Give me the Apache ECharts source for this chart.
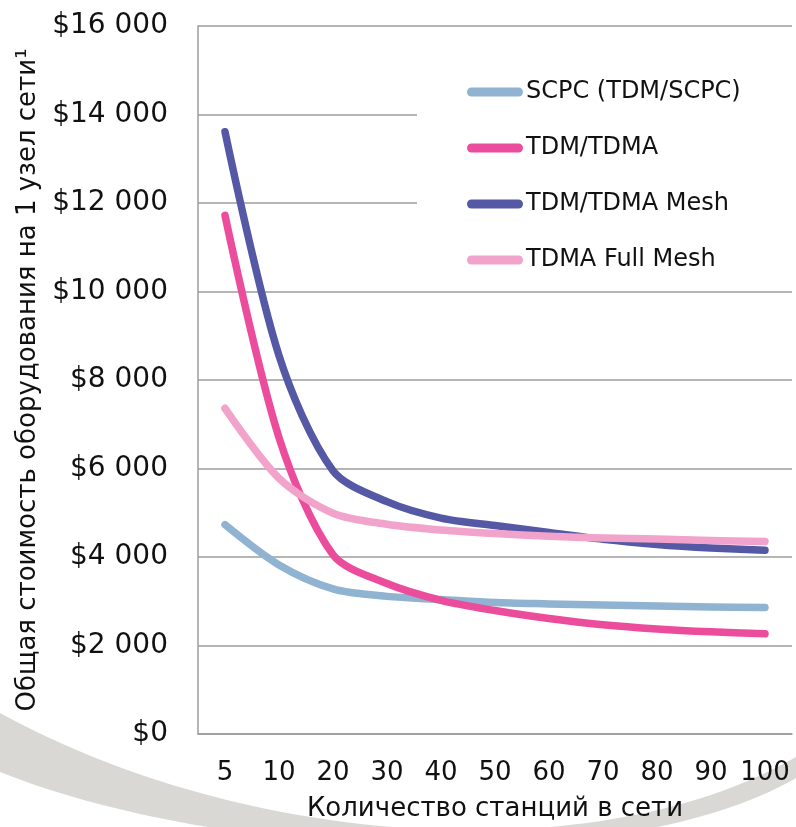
<!DOCTYPE html>
<html>
<head>
<meta charset="utf-8">
<title>Стоимость оборудования на узел</title>
<script src="https://cdn.jsdelivr.net/npm/echarts@6/dist/echarts.min.js"></script>
<style>
  html, body { margin: 0; padding: 0; background: #fff; }
  #chart { width: 796px; height: 827px; }
</style>
</head>
<body>
<div id="chart"></div>
<script>
// количество станций
var stations = ['5', '10', '20', '30', '40', '50', '60', '70', '80', '90', '100']

// стоимость на узел, $
var scpc = [4730, 3820, 3280, 3110, 3040, 2970, 2940, 2915, 2890, 2870, 2860]
var tdmTdma = [11720, 6700, 4050, 3400, 3020, 2790, 2610, 2470, 2375, 2310, 2265]
var tdmTdmaMesh = [13610, 8550, 5950, 5250, 4880, 4710, 4555, 4400, 4285, 4205, 4150]
var tdmaFullMesh = [7360, 5780, 4990, 4740, 4610, 4530, 4470, 4430, 4405, 4375, 4350]

var seriesNames = ['SCPC (TDM/SCPC)', 'TDM/TDMA', 'TDM/TDMA Mesh', 'TDMA Full Mesh']
var seriesColors = ['#8fb3d1', '#ec4c9c', '#5558a5', '#f1a3cb']

var font = 'DejaVu Sans, Verdana, sans-serif'
var gridColor = '#9c9c9c'

// "$16 000"
function money (val) {
  return '$' + String(val).replace(/\B(?=(\d{3})+$)/g, ' ')
}

// точки кубической кривой для фоновой дуги
function bezierPoints (p0, p1, p2, p3, n) {
  var pts = []
  for (var i = 0; i <= n; i++) {
    var t = i / n, u = 1 - t
    pts.push([
      u * u * u * p0[0] + 3 * u * u * t * p1[0] + 3 * u * t * t * p2[0] + t * t * t * p3[0],
      u * u * u * p0[1] + 3 * u * u * t * p1[1] + 3 * u * t * t * p2[1] + t * t * t * p3[1]
    ])
  }
  return pts
}

var arcPoints = bezierPoints([0, 713], [250, 850], [600, 870], [796, 757], 60)
  .concat(bezierPoints([796, 778], [620, 880], [220, 860], [0, 772], 60))

function makeLine (name, data, color) {
  return {
    name: name,
    type: 'line',
    data: data,
    smooth: 0.3,
    showSymbol: false,
    symbol: 'none',
    lineStyle: { width: 7.5, color: color, cap: 'round', join: 'round' },
    itemStyle: { color: color }
  }
}

var chart = echarts.init(document.getElementById('chart'))
chart.setOption({
  animation: false,
  textStyle: { fontFamily: font },
  graphic: [
    {
      // серая дуга на фоне
      type: 'polygon',
      z: -10,
      silent: true,
      shape: { points: arcPoints },
      style: { fill: '#d9d8d4' }
    }
  ],
  grid: {
    left: 198,
    right: 4,
    top: 26,
    bottom: 88,
    containLabel: false
  },
  legend: {
    orient: 'vertical',
    left: 417,
    top: 58,
    padding: [22, 60, 14, 50],
    itemGap: 32,
    itemWidth: 56,
    itemHeight: 9,
    backgroundColor: '#fff',
    icon: 'path://M4.5,0 L51.5,0 A4.5,4.5 0 0 1 51.5,9 L4.5,9 A4.5,4.5 0 0 1 4.5,0 Z',
    textStyle: { fontSize: 24, color: '#111', fontFamily: font, padding: [0, 0, 0, -2] },
    data: seriesNames
  },
  xAxis: {
    type: 'category',
    data: stations,
    boundaryGap: true,
    name: 'Количество станций в сети',
    nameLocation: 'middle',
    nameGap: 62,
    nameTextStyle: { fontSize: 26, color: '#111', fontFamily: font },
    axisLine: { lineStyle: { color: gridColor, width: 1.5 } },
    axisTick: { show: false },
    axisLabel: { interval: 0, fontSize: 26, color: '#111', margin: 26, fontFamily: font }
  },
  yAxis: {
    type: 'value',
    min: 0,
    max: 16000,
    interval: 2000,
    name: 'Общая стоимость оборудования на 1 узел сети¹',
    nameLocation: 'middle',
    nameGap: 153,
    nameTextStyle: { fontSize: 26, color: '#111', fontFamily: font },
    axisLine: { show: true, lineStyle: { color: gridColor, width: 1.5 } },
    axisTick: { show: false },
    axisLabel: {
      fontSize: 28,
      color: '#111',
      margin: 30,
      fontFamily: font,
      formatter: money
    },
    splitLine: { lineStyle: { color: gridColor, width: 1.5 } }
  },
  series: [
    makeLine(seriesNames[0], scpc, seriesColors[0]),
    makeLine(seriesNames[1], tdmTdma, seriesColors[1]),
    makeLine(seriesNames[2], tdmTdmaMesh, seriesColors[2]),
    makeLine(seriesNames[3], tdmaFullMesh, seriesColors[3])
  ]
})
</script>
</body>
</html>
